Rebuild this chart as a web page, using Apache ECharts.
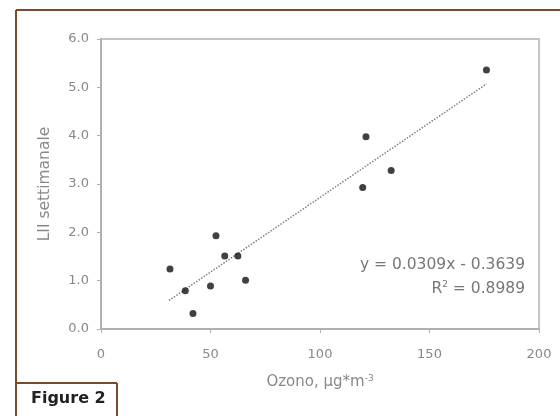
<!DOCTYPE html>
<html>
<head>
<meta charset="utf-8">
<script src="https://cdn.jsdelivr.net/npm/echarts@6/dist/echarts.min.js"></script>
<style>
  html, body { margin: 0; padding: 0; background: #fff; }
  #chart { width: 560px; height: 416px; }
</style>
</head>
<body>
<div id="chart"></div>
<script>
// ozono vs LII settimanale
const ozono = [31.5, 38.5, 42, 50, 52.5, 56.5, 62.5, 66, 119.5, 121, 132.5, 176]
const lii = [1.24, 0.79, 0.32, 0.89, 1.93, 1.51, 1.51, 1.01, 2.93, 3.98, 3.28, 5.36]
// linea di tendenza, estremi
const trendX = [31, 176]
const trendY = [0.59, 5.07]
const xTicks = [0, 50, 100, 150, 200]
const yTicks = [0, 1, 2, 3, 4, 5, 6]
const eqLine = 'y = 0.0309x - 0.3639'
const r2Line = 'R{sup|2} = 0.8989'

const brown = '#7a4a2c'
const axisGrey = '#b0b0b0'
const labelGrey = '#888'
const font = 'DejaVu Sans'

const chart = echarts.init(document.getElementById('chart'))

const option = {
  backgroundColor: '#fff',
  animation: false,
  grid: {
    left: 101,
    right: 21,
    top: 39,
    bottom: 87,
    show: true,
    borderColor: '#c4c4c4',
    borderWidth: 2
  },
  xAxis: {
    type: 'value',
    min: xTicks[0],
    max: xTicks[xTicks.length - 1],
    interval: 50,
    name: 'Ozono, µg*m{sup|-3}',
    nameLocation: 'middle',
    nameGap: 45,
    nameTextStyle: {
      color: labelGrey,
      fontFamily: font,
      fontSize: 15,
      rich: {
        sup: { fontFamily: font, fontSize: 9, verticalAlign: 'top', padding: [0, 0, 8, 0], color: labelGrey }
      }
    },
    axisLine: { lineStyle: { color: axisGrey, width: 2 } },
    axisTick: { show: true, inside: false, length: 4, lineStyle: { color: axisGrey } },
    axisLabel: { color: labelGrey, fontFamily: font, fontSize: 13, margin: 19 },
    splitLine: { show: false }
  },
  yAxis: {
    type: 'value',
    min: yTicks[0],
    max: yTicks[yTicks.length - 1],
    interval: 1,
    name: 'LII settimanale',
    nameLocation: 'middle',
    nameGap: 48,
    nameTextStyle: { color: labelGrey, fontFamily: font, fontSize: 15.5 },
    axisLine: { show: true, lineStyle: { color: axisGrey, width: 2 } },
    axisTick: { show: true, inside: false, length: 4, lineStyle: { color: axisGrey } },
    axisLabel: {
      color: labelGrey,
      fontFamily: font,
      fontSize: 13,
      margin: 12,
      formatter: v => v.toFixed(1)
    },
    splitLine: { show: false }
  },
  series: [
    {
      type: 'line',
      data: trendX.map((x, i) => [x, trendY[i]]),
      symbol: 'none',
      lineStyle: { color: '#808080', width: 1.5, type: 'dotted' },
      z: 1
    },
    {
      type: 'scatter',
      data: ozono.map((x, i) => [x, lii[i]]),
      symbol: 'circle',
      symbolSize: 7,
      itemStyle: { color: '#111' },
      z: 2
    }
  ],
  graphic: [
    // cornice
    { type: 'line', shape: { x1: 16, y1: 10, x2: 560, y2: 10 }, style: { stroke: brown, lineWidth: 2 } },
    { type: 'line', shape: { x1: 16, y1: 10, x2: 16, y2: 416 }, style: { stroke: brown, lineWidth: 2 } },
    { type: 'line', shape: { x1: 16, y1: 383, x2: 117, y2: 383 }, style: { stroke: brown, lineWidth: 2 } },
    { type: 'line', shape: { x1: 117, y1: 383, x2: 117, y2: 416 }, style: { stroke: brown, lineWidth: 2 } },
    {
      type: 'text', left: 31, top: 391,
      style: { text: 'Figure 2', font: 'bold 16px "DejaVu Sans"', fill: '#222' }
    },
    // equazione della retta
    {
      type: 'text', right: 35, top: 257,
      style: { text: eqLine, font: '15.5px "DejaVu Sans"', fill: '#777' }
    },
    {
      type: 'text', right: 35, top: 280,
      style: {
        text: r2Line,
        font: '15.5px "DejaVu Sans"',
        fill: '#777',
        rich: { sup: { fontFamily: font, fontSize: 9, verticalAlign: 'top', fill: '#777', padding: [0, 0, 8, 0] } }
      }
    }
  ]
}

chart.setOption(option)
</script>
</body>
</html>
